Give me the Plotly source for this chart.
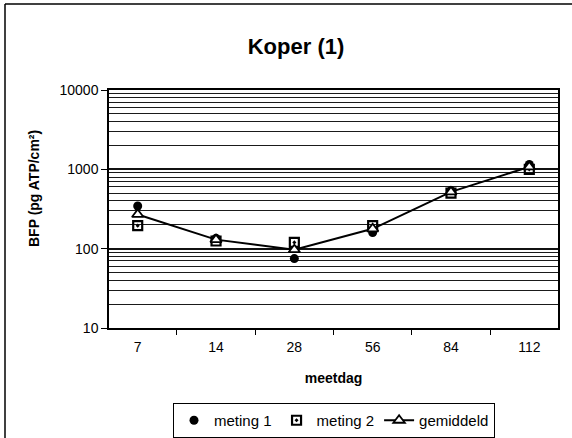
import plotly.graph_objects as go

# Meetdagen en gemeten BFP-waarden (pg ATP/cm²)
meetdag = ["7", "14", "28", "56", "84", "112"]
meting_1 = [345, 135, 75, 160, 540, 1150]
meting_2 = [195, 125, 120, 195, 500, 1000]
gemiddeld = [270, 130, 97, 178, 520, 1075]

y_labels = [10, 100, 1000, 10000]
y_grid = [m * 10 ** e for e in range(1, 4) for m in range(2, 10)]

FONT = "Liberation Sans, Arial, sans-serif"
W, H = 572, 438
L, R, T, B = 109, 558, 90, 328   # plot area in pixels


def px_x(x):
    return (x - L) / (R - L)


def px_y(y):
    return (B - y) / (B - T)


fig = go.Figure()
fig.add_trace(go.Scatter(
    x=meetdag, y=meting_1, name="meting 1", mode="markers",
    marker=dict(symbol="circle", size=9, color="black"),
))
fig.add_trace(go.Scatter(
    x=meetdag, y=meting_2, name="meting 2", mode="markers",
    marker=dict(symbol="square-open-dot", size=9, color="black",
                line=dict(width=2.2, color="black")),
))
fig.add_trace(go.Scatter(
    x=meetdag, y=gemiddeld, name="gemiddeld", mode="lines+markers",
    line=dict(color="black", width=2),
    marker=dict(symbol="triangle-up", size=10, color="white",
                line=dict(width=1.8, color="black")),
))

fig.update_layout(
    width=W, height=H,
    margin=dict(l=L, r=W - R, t=T, b=H - B),
    paper_bgcolor="white", plot_bgcolor="white",
    font=dict(family=FONT, size=13, color="black"),
    title=dict(text="<b>Koper (1)</b>", x=296 / W, xref="container",
               y=1 - 46 / H, yref="container", xanchor="center",
               yanchor="middle", font=dict(size=22)),
    showlegend=True,
    legend=dict(orientation="h", x=334 / W, xref="container",
                xanchor="center", y=1 - 403 / H, yref="container",
                yanchor="top", bordercolor="black", borderwidth=1,
                font=dict(size=15), itemwidth=30),
    xaxis=dict(
        type="category", tickson="boundaries", ticks="outside", ticklen=5,
        tickcolor="black", showline=True, linecolor="black", linewidth=1.5,
        mirror=True, showgrid=False, tickfont=dict(size=14),
        ticklabelstandoff=5,
        title=dict(text="<b>meetdag</b>", font=dict(size=14), standoff=20),
    ),
    yaxis=dict(
        type="log", range=[1, 4], tickvals=y_labels,
        ticktext=[str(v) for v in y_labels],
        ticks="outside", ticklen=6, tickcolor="black",
        showline=True, linecolor="black", linewidth=1.5, mirror=True,
        showgrid=True, gridcolor="#111111", gridwidth=1.5,
        minor=dict(tickvals=y_grid, showgrid=True, gridcolor="#1a1a1a",
                   gridwidth=1.3, ticks=""),
        tickfont=dict(size=14),
    ),
    annotations=[
        dict(text="<b>BFP (pg ATP/cm²)</b>", textangle=-90,
             xref="paper", yref="paper", x=px_x(34), y=px_y(189),
             xanchor="center", yanchor="middle", showarrow=False,
             font=dict(size=14)),
    ],
    shapes=[
        dict(type="line", xref="paper", yref="paper",
             x0=px_x(5), x1=px_x(600), y0=px_y(4), y1=px_y(4),
             line=dict(color="black", width=1.5)),
        dict(type="line", xref="paper", yref="paper",
             x0=px_x(5), x1=px_x(5), y0=px_y(4), y1=px_y(460),
             line=dict(color="black", width=1.5)),
    ],
)

fig.write_html("out.html")
